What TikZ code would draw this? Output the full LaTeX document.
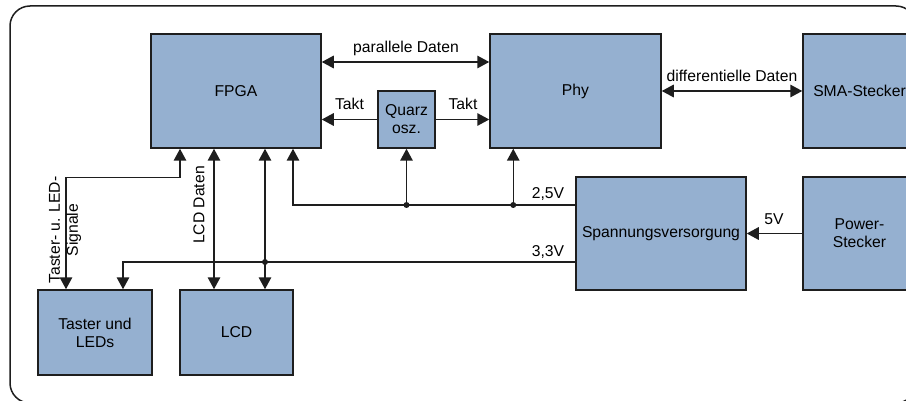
\documentclass[tikz,border=0pt]{standalone}
\usepackage{fontspec}
\setmainfont{Liberation Sans}
\usetikzlibrary{arrows.meta,calc}
\definecolor{boxblue}{RGB}{149,176,208}
\definecolor{linedark}{RGB}{30,30,30}
\tikzset{
  blk/.style={draw=linedark, fill=boxblue, line width=1.5pt, rectangle, inner sep=0pt, align=center,
    font=\fontsize{15.7}{18}\selectfont},
  lbl/.style={font=\fontsize{15.7}{18}\selectfont, inner sep=0pt, anchor=base},
  conn/.style={draw=linedark, line width=1.5pt},
  tip/.tip={Triangle[length=12pt,width=12.5pt]},
  arr/.style={conn, -tip},
  dbl/.style={conn, tip-tip},
  jdot/.style={circle, fill=linedark, inner sep=0pt, minimum size=6pt},
}
\begin{document}
\begin{tikzpicture}[x=1pt,y=-1pt]
\clip (0,0) rectangle (906,401);
\fill[white] (0,0) rectangle (906,401);
% outer frame
\draw[draw=linedark, line width=1.5pt, rounded corners=20pt] (10,6) rectangle (916,403);

% blocks
\node[blk, minimum width=170pt, minimum height=114pt] (fpga) at (236,91) {FPGA};
\node[blk, minimum width=57pt, minimum height=57pt] (quarz) at (406.5,119.5) {Quarz\\osz.};
\node[blk, minimum width=171pt, minimum height=114pt] (phy) at (575.5,91) {Phy};
\node[blk, minimum width=113pt, minimum height=114pt] (sma) at (859.5,91) {SMA-Stecker};
\node[blk, minimum width=170pt, minimum height=113pt] (spv) at (661,233.5) {Spannungsversorgung};
\node[blk, minimum width=113pt, minimum height=113pt] (pwr) at (859.5,233.5) {Power-\\Stecker};
\node[blk, minimum width=114pt, minimum height=85pt] (tast) at (95,332.5) {Taster und\\LEDs};
\node[blk, minimum width=113pt, minimum height=85pt] (lcd) at (236.5,332.5) {LCD};

% parallele Daten
\coordinate (pd) at ($(fpga.east)+(0,-29)$);
\draw[dbl] (pd) -- (pd -| phy.west);
\node[lbl] (lpd) at (406,53) {parallele Daten};

% Takt
\draw[arr] (quarz.west) -- (quarz.west -| fpga.east);
\draw[arr] (quarz.east) -- (quarz.east -| phy.west);
\node[lbl] (lt1) at (349.5,110) {Takt};
\node[lbl] (lt2) at (463,110) {Takt};

% differentielle Daten
\draw[dbl] (phy.east) -- (sma.west);
\node[lbl] (ldd) at (732,82) {differentielle Daten};

% 5V
\draw[arr] (pwr.west) -- (spv.east);
\node[lbl] (l5) at (774,225) {5V};

% 2,5V
\coordinate (v25) at ($(spv.west)+(0,-28.5)$);
\coordinate (f3) at ($(fpga.south)+(57,0)$);
\coordinate (p1) at ($(phy.west)+(24,0)$);
\draw[arr] (v25) -| (f3);
\draw[arr] (quarz.south |- v25) -- (quarz.south);
\draw[arr] (p1 |- v25) -- (p1 |- phy.south);
\node[jdot] (d1) at (quarz.south |- v25) {};
\node[jdot] (d2) at (p1 |- v25) {};
\node[lbl] (l25) at (548,199) {2,5V};

% 3,3V
\coordinate (v33) at ($(spv.west)+(0,28.5)$);
\coordinate (t2) at ($(tast.north)+(28,0)$);
\draw[arr] (v33) -| (t2);
\coordinate (f2) at ($(fpga.south)+(29,0)$);
\draw[dbl] (f2) -- (f2 |- lcd.north);
\node[jdot] (d3) at (f2 |- v33) {};
\node[lbl] (l33) at (548,256) {3,3V};

% LCD Daten
\coordinate (f1) at ($(fpga.south)+(-22,0)$);
\draw[dbl] (f1) -- (f1 |- lcd.north);
\node[font=\fontsize{15.7}{18}\selectfont, inner sep=0pt, rotate=90] (lld) at (199,205) {LCD Daten};

% Taster- u. LED-Signale
\coordinate (f0) at ($(fpga.south)+(-56,0)$);
\coordinate (t1) at ($(tast.north)+(-29,0)$);
\draw[dbl] (f0) -- ++(0,29) -| (t1);
\node[font=\fontsize{15.7}{18}\selectfont, inner sep=0pt, rotate=90, align=center] (lts) at (65,230) {Taster- u. LED-\\Signale};
\end{tikzpicture}
\end{document}
